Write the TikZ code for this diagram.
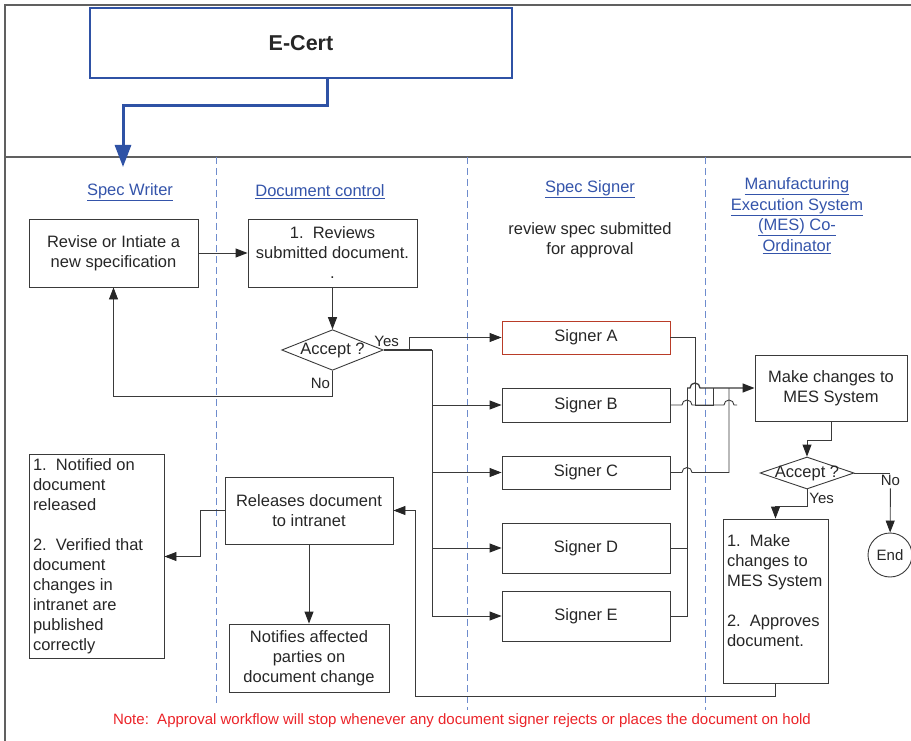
\documentclass[tikz,border=0pt]{standalone}
\usepackage{fontspec}
\setmainfont{Liberation Sans}
\usetikzlibrary{arrows.meta,shapes.geometric}
\definecolor{ecblue}{RGB}{47,82,165}
\definecolor{headblue}{RGB}{52,84,170}
\definecolor{laneblue}{RGB}{110,140,205}
\definecolor{linegray}{RGB}{58,58,58}
\definecolor{framegray}{RGB}{96,96,96}
\definecolor{sigred}{RGB}{185,60,40}
\definecolor{notered}{RGB}{235,35,40}
\tikzset{
    box/.style={draw=linegray,line width=0.9pt,inner sep=4pt,align=center,font=\fontsize{16.5}{20}\selectfont,text=black!85},
    listbox/.style={box,align=flush left},
    dec/.style={diamond,draw=linegray,line width=0.9pt,aspect=2.5,inner sep=0pt,font=\fontsize{16.5}{20}\selectfont,text=black!85},
    signer/.style={box,minimum width=168pt},
    lane/.style={draw=laneblue,line width=0.9pt,dash pattern=on 7pt off 4pt},
    head/.style={text=headblue,align=center,font=\fontsize{16.5}{20.5}\selectfont},
    lbl/.style={font=\fontsize{15}{18}\selectfont,inner sep=2pt,text=black!85},
    conn/.style={draw=linegray,line width=0.9pt},
    arr/.style={conn,-{Triangle[length=12pt,width=9pt,fill=black!85,color=black!85]}},
}
\begin{document}
\begin{tikzpicture}[x=1pt,y=-1pt]
    \useasboundingbox (0,0) rectangle (911,741);
    \draw[framegray,line width=1.2pt] (911,5) -- (5,5) -- (5,741);
    \draw[framegray,line width=1.2pt] (5,157) -- (911,157);
    \draw[lane] (216,157) -- (216,705);
    \draw[lane] (467,157) -- (467,710);
    \draw[lane] (705,157) -- (705,710);

    \node[draw=ecblue,line width=2pt,minimum width=422pt,minimum height=70pt,font=\fontsize{21.5}{24}\selectfont\bfseries,text=black!85] (ecert) at (301,43) {E-Cert};
    \coordinate (ecdrop) at (327,78);
    \coordinate (swtop) at (123,167);
    \draw[ecblue,line width=3pt,-{Triangle[length=22pt,width=16pt]}] (ecdrop) -- ++(0,28) -| (swtop);

    \node[head] (hwriter) at (130,192) {\underline{Spec Writer}};
    \node[head] (hdoc) at (320,192) {\underline{Document control}};
    \node[head] (hsigner) at (590,189) {\underline{Spec Signer}};
    \node[box,draw=none] (hreview) at (590,240) {review spec submitted\\for approval};
    \node[head] (hmes) at (797,215.5) {\underline{Manufacturing}\\\underline{Execution System}\\\underline{(MES) Co-}\\\underline{Ordinator}};

    \node[box,minimum width=169pt,minimum height=68pt] (revise) at (113.5,253) {Revise or Intiate a\\new specification};
    \node[box,minimum width=169pt,minimum height=68pt] (review) at (332.5,253) {1.\ \ Reviews\\submitted document.\\.};
    \node[dec] (acc1) at (332.5,350) {Accept ?};

    \node[signer,draw=sigred,minimum height=33pt] (sigA) at (586,337.5) {Signer A};
    \node[signer,minimum height=34pt] (sigB) at (586,405) {Signer B};
    \node[signer,minimum height=33pt] (sigC) at (586,472.5) {Signer C};
    \node[signer,minimum height=50pt] (sigD) at (586,548) {Signer D};
    \node[signer,minimum height=50pt] (sigE) at (586,616) {Signer E};

    \node[box,minimum width=152pt,minimum height=66pt] (mes1) at (831,388) {Make changes to\\MES System};
    \node[dec,minimum width=94pt,minimum height=32pt,label={[font=\fontsize{16.5}{20}\selectfont,text=black!85]center:Accept ?}] (acc2) at (807,473) {};
    \node[circle,draw=linegray,line width=0.9pt,minimum size=44pt,inner sep=0pt,font=\fontsize{15}{18}\selectfont,text=black!85] (end) at (890,555) {End};
    \node[listbox,text width=97pt,minimum height=164pt] (mes2) at (775.5,601) {1.\ \ Make\\changes to\\MES System\\[20pt]2.\ \ Approves\\document.\\~};

    \node[box,minimum width=168pt,minimum height=67pt] (release) at (309,510.5) {Releases document\\to intranet};
    \node[box,minimum width=160pt,minimum height=68pt] (notify) at (309,658) {Notifies affected\\parties on\\document change};
    \node[listbox,text width=127pt,minimum height=203pt] (notified) at (96.5,556.5) {1.\ \ Notified on\\document\\released\\[20pt]2.\ \ Verified that\\document\\changes in\\intranet are\\published\\correctly};

    \node[text=notered,font=\fontsize{15}{17}\selectfont] (note) at (462,721) {Note:\ \ Approval workflow will stop whenever any document signer rejects or places the document on hold};

    \draw[arr] (revise) -- (review);
    \draw[arr] (review) -- (acc1);
    \draw[arr] (acc1.south) -- ++(0,26) node[lbl,midway,left] {No} -| (revise.south);
    \coordinate (trunk) at (432,350);
    \coordinate (yesA) at (409,350);
    \draw[conn,line width=2pt] (acc1.east) -- (trunk) node[lbl,pos=0.06,above] {Yes};
    \draw[arr] (yesA) |- (sigA);
    \draw[arr] (trunk) |- (sigE);
    \draw[arr] (trunk |- sigB) -- (sigB);
    \draw[arr] (trunk |- sigC) -- (sigC);
    \draw[arr] (trunk |- sigD) -- (sigD);

    \draw[conn] (sigA) -| (695,405) -- (713,405) -- (713,388);
    \draw[conn] (sigB.east) -- (682,405) arc[start angle=180,end angle=0,radius=5pt] -- (724,405) arc[start angle=180,end angle=0,radius=5pt] -- (737,405);
    \draw[conn] (sigC.east) -- (682,472.5) arc[start angle=180,end angle=0,radius=5pt] -- (729,472.5) -- (729,388);
    \draw[conn] (sigE.east) -- (687,616) -- (687,388);
    \draw[conn] (sigD.east) -- (687,548);
    \draw[arr,line width=1.3pt] (687,388) -- (690,388) arc[start angle=180,end angle=0,radius=5pt] -- (mes1);

    \draw[arr] (mes1.south) -- ++(0,19) -| (acc2.north);
    \draw[arr] (acc2.south) -- ++(0,17) node[lbl,midway,right] {Yes} -| (mes2.north);
    \draw[conn] (acc2.east) -- ++(36,0) node[lbl,below] (no2) {No};
    \draw[arr] (no2) -- (end);

    \draw[arr] (mes2.south) |- (415,696) |- (release);
    \draw[arr] (release.west) -- (200,510.5) |- (notified);
    \draw[arr] (release) -- (notify);
\end{tikzpicture}
\end{document}
